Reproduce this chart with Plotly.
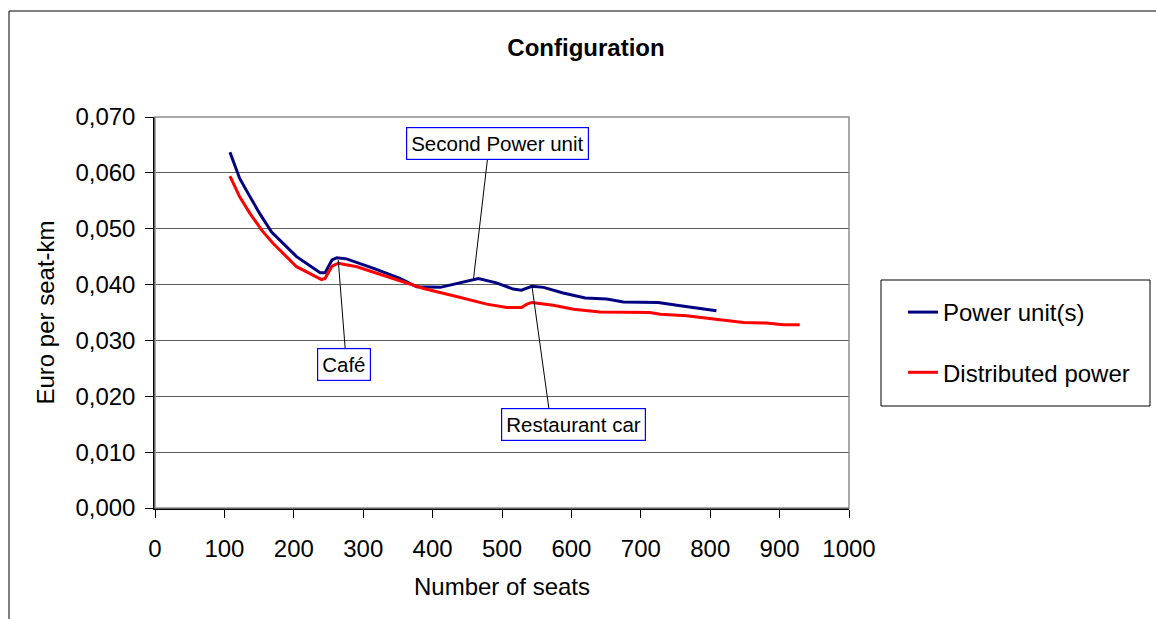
import plotly.graph_objects as go

# ---- data ----
power_unit_seats = [108, 122, 137, 151, 168, 204, 238, 245, 255, 262, 276, 315, 353, 377, 411,
                    459, 466, 492, 516, 528, 543, 560, 588, 620, 651, 675, 699, 713, 725, 757, 809]
power_unit_cost = [0.0637, 0.0590, 0.0557, 0.0527, 0.0494, 0.0450, 0.0421, 0.0421, 0.0444, 0.0448,
                   0.0446, 0.0429, 0.0411, 0.0396, 0.0395, 0.0409, 0.0411, 0.0403, 0.0392, 0.0390,
                   0.0397, 0.0395, 0.0385, 0.0376, 0.0374, 0.0369, 0.0369, 0.0368, 0.0368, 0.0362,
                   0.0353]

distributed_seats = [108, 122, 137, 154, 170, 204, 240, 245, 255, 264, 291, 324, 358, 387, 430,
                     478, 507, 528, 536, 543, 574, 603, 641, 713, 728, 766, 814, 848, 881, 905, 929]
distributed_cost = [0.0594, 0.0557, 0.0527, 0.0497, 0.0474, 0.0432, 0.0409, 0.0411, 0.0433, 0.0438,
                    0.0432, 0.0419, 0.0405, 0.0393, 0.0380, 0.0365, 0.0359, 0.0359, 0.0365, 0.0368,
                    0.0363, 0.0356, 0.0351, 0.0350, 0.0347, 0.0344, 0.0337, 0.0332, 0.0331, 0.0328,
                    0.0328]

series_names = ["Power unit(s)", "Distributed power"]
series_colors = ["#000080", "#FF0000"]

y_tick_vals = [0.0, 0.01, 0.02, 0.03, 0.04, 0.05, 0.06, 0.07]
y_tick_text = ["0,000", "0,010", "0,020", "0,030", "0,040", "0,050", "0,060", "0,070"]
x_tick_vals = [0, 100, 200, 300, 400, 500, 600, 700, 800, 900, 1000]

callout_labels = ["Second Power unit", "Café", "Restaurant car"]
callout_x = [459, 264, 543]
callout_y = [0.0411, 0.0444, 0.0399]

FONT = "Liberation Sans, Arial, sans-serif"

fig = go.Figure()
fig.add_trace(go.Scatter(x=power_unit_seats, y=power_unit_cost, mode="lines",
                         name=series_names[0], legendgroup="a",
                         line=dict(color=series_colors[0], width=3)))
fig.add_trace(go.Scatter(x=distributed_seats, y=distributed_cost, mode="lines",
                         name=series_names[1], legendgroup="b",
                         line=dict(color=series_colors[1], width=3)))

W, H = 1156, 619
L, R, T, B = 155, 307, 117, 111
pw, ph = W - L - R, H - T - B


def px(xp):
    return (xp - L) / pw


def py(yp):
    return (H - B - yp) / ph


shapes = []
# outer chart frame (only left/top visible in the crop)
shapes.append(dict(type="rect", xref="paper", yref="paper",
                   x0=px(9), x1=px(1175), y0=py(640), y1=py(11),
                   line=dict(color="#000000", width=1), layer="below"))
# plot area border (gray)
shapes.append(dict(type="rect", xref="paper", yref="paper", x0=0, x1=1, y0=0, y1=1,
                   line=dict(color="#8c8c8c", width=1.5), layer="above"))
# legend box
shapes.append(dict(type="rect", xref="paper", yref="paper",
                   x0=px(881), x1=px(1150), y0=py(406), y1=py(280),
                   line=dict(color="#000000", width=1), fillcolor="rgba(0,0,0,0)"))

# leader lines (pixel offsets from the pointed data point)
leader_offsets = [(14, 120), (7, -89), (17, -123)]
for (dx, dy), cx, cy in zip(leader_offsets, callout_x, callout_y):
    shapes.append(dict(type="line", xref="x", yref="y",
                       xsizemode="pixel", ysizemode="pixel",
                       xanchor=cx, yanchor=cy, x0=0, y0=0, x1=dx, y1=dy,
                       line=dict(color="#000000", width=1)))

annotations = []
box_shifts = [(24, 135), (5.5, -104.5), (42, -139.5)]
for (sx, sy), lab, cx, cy in zip(box_shifts, callout_labels, callout_x, callout_y):
    annotations.append(dict(x=cx, y=cy, xref="x", yref="y", text=lab, showarrow=False,
                            xshift=sx, yshift=sy, bgcolor="#FFFFFF",
                            bordercolor="#0000FF", borderwidth=1.2, borderpad=4,
                            font=dict(family=FONT, size=20.5, color="#000000")))

fig.update_layout(
    width=W, height=H,
    margin=dict(l=L, r=R, t=T, b=B, autoexpand=False),
    paper_bgcolor="#FFFFFF", plot_bgcolor="#FFFFFF",
    font=dict(family=FONT, size=24, color="#000000"),
    title=dict(text="<b>Configuration</b>", x=586 / W, xref="container", xanchor="center",
               y=1 - 48 / H, yref="container", yanchor="middle",
               font=dict(family=FONT, size=24, color="#000000")),
    xaxis=dict(range=[0, 1000], tickvals=x_tick_vals, showgrid=False, zeroline=False,
               showline=True, linecolor="#000000", linewidth=1.5,
               ticks="outside", ticklen=8, tickcolor="#000000", ticklabelstandoff=10,
               title=dict(text="Number of seats", standoff=18,
                          font=dict(family=FONT, size=24)),
               tickfont=dict(family=FONT, size=24)),
    yaxis=dict(range=[0, 0.07], tickvals=y_tick_vals, ticktext=y_tick_text,
               showgrid=True, gridcolor="#606060", gridwidth=1, zeroline=False,
               showline=True, linecolor="#000000", linewidth=1.5,
               ticks="outside", ticklen=8, tickcolor="#000000", ticklabelstandoff=5,
               title=dict(text="Euro per seat-km", standoff=14,
                          font=dict(family=FONT, size=24)),
               tickfont=dict(family=FONT, size=24)),
    legend=dict(x=px(903), y=py(290), xanchor="left", yanchor="top",
                bgcolor="rgba(0,0,0,0)", borderwidth=0,
                font=dict(family=FONT, size=24, color="#000000"),
                traceorder="grouped", tracegroupgap=26),
    shapes=shapes,
    annotations=annotations,
)

fig.write_html("out.html",
               config={"displayModeBar": False},
               post_script="document.body.style.margin='0';document.body.style.overflow='hidden';")
